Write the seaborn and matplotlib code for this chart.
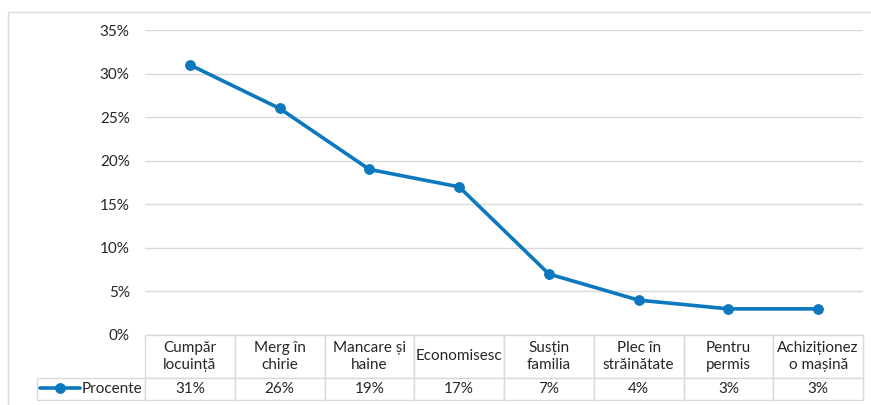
import pandas as pd
import seaborn as sns
import matplotlib.pyplot as plt
from matplotlib.patches import Rectangle

# Data
categories = ['Cumpăr\nlocuință', 'Merg în\nchirie', 'Mancare și\nhaine', 'Economisesc',
              'Susțin\nfamilia', 'Plec în\nstrăinătate', 'Pentru\npermis', 'Achiziționez\no mașină']
values = [31, 26, 19, 17, 7, 4, 3, 3]
series_name = 'Procente'
yticks = [0, 5, 10, 15, 20, 25, 30, 35]

df = pd.DataFrame({'cat': categories, 'val': values})

sns.set_style('white')
plt.rcParams['font.family'] = ['Lato', 'DejaVu Sans']

line_color = '#0B78BF'
grid_color = '#D9D9D9'
text_color = '#262626'
fs = 11

fig = plt.figure(figsize=(8.71, 4.05), dpi=100)
W, H = 871, 405
ax = fig.add_axes([145 / W, (H - 335) / H, (863 - 145) / W, 305 / H])

# outer chart border
fig.patches.append(Rectangle((8 / W, -0.1), 1.2, (H - 12) / H + 0.1, transform=fig.transFigure,
                             fill=False, edgecolor=grid_color, linewidth=1.0))

sns.lineplot(data=df, x='cat', y='val', ax=ax, color=line_color, linewidth=2.6,
             marker='o', markersize=7, markeredgecolor=line_color, sort=False, legend=False,
             zorder=5, clip_on=False)

ax.set_xlim(-0.5, len(categories) - 0.5)
ax.set_ylim(0, 35)
ax.set_yticks(yticks)
ax.set_yticklabels([f'{v}%' for v in yticks], fontsize=fs, color=text_color)
ax.tick_params(axis='y', length=0, pad=11)
ax.set_xticks([])
ax.set_xlabel('')
ax.set_ylabel('')
ax.grid(axis='y', color=grid_color, linewidth=1)
ax.set_axisbelow(True)
for s in ax.spines.values():
    s.set_visible(False)

# data table under the plot
col_w = 1.0 / len(categories)
lab_w = (145 - 37) / (863 - 145)
tbl = ax.table(cellText=[[''] + [f'{v}%' for v in values]],
               colLabels=[''] + categories,
               colWidths=[lab_w] + [col_w] * len(categories),
               cellLoc='center',
               bbox=[-lab_w, -65 / 305, 1 + lab_w, 65 / 305])
tbl.auto_set_font_size(False)
for (r, c), cell in tbl.get_celld().items():
    cell.set_edgecolor(grid_color)
    cell.set_linewidth(1)
    cell.set_facecolor('white')
    cell.get_text().set_fontsize(fs)
    cell.get_text().set_color(text_color)
    cell.get_text().set_linespacing(1.35)
    cell.set_height(43 if r == 0 else 22)
    if r == 0 and c == 0:
        cell.visible_edges = ''
    cell.PAD = 0.02

leg = ax.legend(handles=[ax.lines[0]], labels=[series_name], loc='center left',
                bbox_to_anchor=(40 / W, (H - 389) / H), bbox_transform=fig.transFigure,
                frameon=False, fontsize=fs, handlelength=2.6, handletextpad=0.15,
                borderpad=0, borderaxespad=0, numpoints=1)
for t in leg.get_texts():
    t.set_color(text_color)

fig.savefig('out.png', dpi=100)
